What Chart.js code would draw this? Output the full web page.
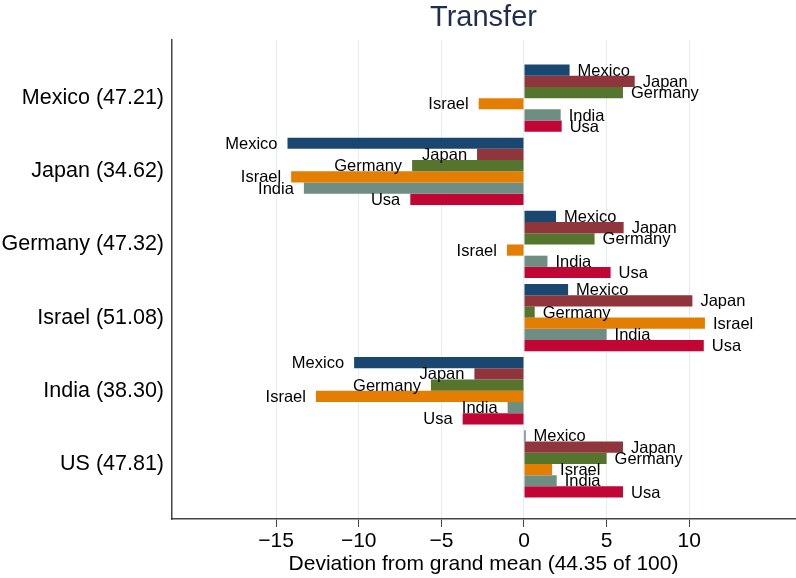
<!DOCTYPE html>
<html>
<head>
<meta charset="utf-8">
<script src="https://cdn.jsdelivr.net/npm/chart.js@4/dist/chart.umd.min.js"></script>
<style>
  html, body { margin: 0; padding: 0; background: #fff; }
  #wrap { width: 796px; height: 578px; }
</style>
</head>
<body>
<div id="wrap"><canvas id="transferChart"></canvas></div>
<script>
const groupLabels = ['Mexico (47.21)', 'Japan (34.62)', 'Germany (47.32)', 'Israel (51.08)', 'India (38.30)', 'US (47.81)'];
const seriesNames = ['Mexico', 'Japan', 'Germany', 'Israel', 'India', 'Usa'];
const seriesColors = ['#1a476f', '#90353b', '#55752f', '#e37e00', '#6e8e84', '#c10534'];

// deviation from grand mean, one entry per country group (Mexico ... US)
const mexicoVals  = [2.76, -14.31, 1.94, 2.67, -10.28, 0.09];
const japanVals   = [6.70, -2.84, 6.03, 10.19, -3.00, 5.99];
const germanyVals = [5.99, -6.77, 4.27, 0.65, -5.63, 5.00];
const israelVals  = [-2.74, -14.09, -1.03, 10.95, -12.59, 1.70];
const indiaVals   = [2.22, -13.32, 1.42, 5.00, -0.99, 1.98];
const usaVals     = [2.28, -6.88, 5.24, 10.88, -3.71, 5.99];

const xTicks = [-15, -10, -5, 0, 5, 10];
const FONT = "'Liberation Sans', Arial, Helvetica, sans-serif";

const allVals = [mexicoVals, japanVals, germanyVals, israelVals, indiaVals, usaVals];

// write series name next to the end of each bar
const barLabels = {
    id: 'barLabels',
    afterDatasetsDraw(chart) {
        const ctx = chart.ctx;
        ctx.save();
        ctx.font = '16.5px ' + FONT;
        ctx.fillStyle = '#000';
        ctx.textBaseline = 'middle';
        chart.data.datasets.forEach((ds, i) => {
            chart.getDatasetMeta(i).data.forEach((el, j) => {
                const v = ds.data[j].x;
                if (v >= 0) {
                    ctx.textAlign = 'left';
                    ctx.fillText(ds.label, el.x + 8, el.y + 1);
                } else {
                    ctx.textAlign = 'right';
                    ctx.fillText(ds.label, el.x - 10, el.y + 1);
                }
            });
        });
        ctx.restore();
    }
};

const ctx = document.getElementById('transferChart').getContext('2d');

new Chart(ctx, {
    type: 'bar',
    data: {
        datasets: seriesNames.map((name, i) => ({
            label: name,
            data: allVals[i].map((v, g) => ({ x: v, y: g })),
            backgroundColor: seriesColors[i],
            borderWidth: 0
        }))
    },
    options: {
        indexAxis: 'y',
        responsive: true,
        maintainAspectRatio: false,
        animation: false,
        categoryPercentage: 0.92,
        barPercentage: 1.0,
        layout: { padding: { left: 0, right: 1, top: 0, bottom: 0 } },
        plugins: {
            legend: { display: false },
            tooltip: { enabled: false },
            title: {
                display: true,
                fullSize: false,   // centre over the plot area, not the canvas
                text: 'Transfer',
                color: '#1f2d4f',
                font: { family: FONT, size: 29, weight: 'normal' },
                padding: { top: 1, bottom: 4.2 }
            }
        },
        scales: {
            x: {
                type: 'linear',
                min: -21.3,
                max: 16.4,
                afterBuildTicks: (scale) => { scale.ticks = xTicks.map(v => ({ value: v })); },
                afterFit: (scale) => { scale.height = 59; },
                grid: { color: '#e5edf1', lineWidth: 1, tickColor: '#444', tickLength: 8 },
                border: { color: '#444', width: 1.5 },
                ticks: {
                    color: '#000',
                    padding: 2,
                    font: { family: FONT, size: 21 },
                    callback: (v) => v < 0 ? '\u2212' + Math.abs(v) : String(v)
                },
                title: {
                    display: true,
                    text: 'Deviation from grand mean (44.35 of 100)',
                    color: '#000',
                    font: { family: FONT, size: 21 },
                    padding: { top: 0, bottom: 1 }
                }
            },
            y: {
                type: 'linear',
                reverse: true,
                offset: false,
                min: -0.795,
                max: 5.753,
                afterBuildTicks: (scale) => { scale.ticks = groupLabels.map((_, i) => ({ value: i })); },
                afterFit: (scale) => { scale.width = 172; },
                grid: { display: false, drawTicks: false },
                border: { color: '#444', width: 1.5 },
                ticks: {
                    color: '#000',
                    padding: 8,
                    font: { family: FONT, size: 21.5 },
                    callback: (v) => groupLabels[v] ?? ''
                }
            }
        }
    },
    plugins: [barLabels]
});
</script>
</body>
</html>
